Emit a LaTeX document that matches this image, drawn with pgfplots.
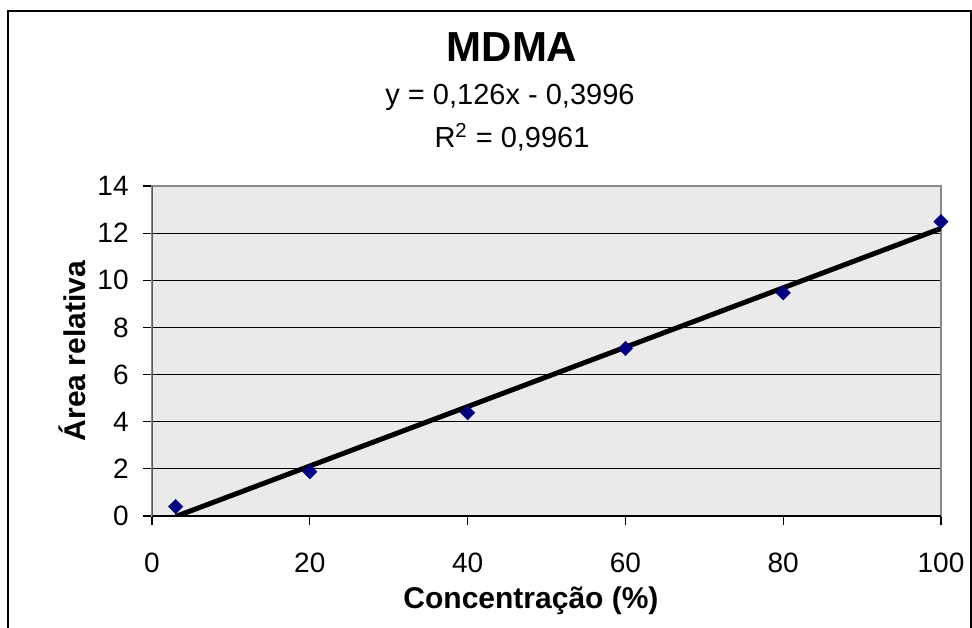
\documentclass[border=0pt]{standalone}
\usepackage{pgfplots}
\pgfplotsset{compat=1.18}
\usepackage{fontspec}
\setmainfont{Liberation Sans}
\definecolor{plotbg}{HTML}{EAEAEA}
\definecolor{navyblue}{HTML}{000080}
\definecolor{framegray}{HTML}{8A8A8A}
\begin{document}
\begin{tikzpicture}
\begin{axis}[
  at={(76pt,55.5pt)}, anchor=south west,
  scale only axis, width=394.5pt, height=165pt,
  xmin=0, xmax=100, ymin=0, ymax=14,
  xtick={0,20,40,60,80,100}, ytick={0,2,4,6,8,10,12,14},
  xtick pos=left, ytick pos=left,
  axis background/.style={fill=plotbg},
  ymajorgrids, major grid style={black, line width=0.5pt},
  tick align=outside, major tick length=4.5pt,
  tick style={black, line width=0.6pt},
  axis line style={framegray, line width=1pt},
  /pgf/number format/assume math mode=true,
  ticklabel style={font=\fontsize{14}{16}\selectfont},
  yticklabel style={anchor=east, inner sep=0pt, xshift=-7pt},
  xticklabel style={anchor=north, inner sep=0pt, yshift=-14pt},
]
\addplot[only marks, mark=square*, mark size=2.47pt, mark options={rotate=45, fill=navyblue, draw=navyblue}]
  coordinates {(3,0.40) (20,1.88) (40,4.38) (60,7.11) (80,9.47) (100,12.49)};
\addplot[black, line width=2.5pt, no marks] coordinates {(3,-0.0216) (100,12.2004)};
\draw[black, line width=0.8pt] (axis cs:0,0) -- (axis cs:100,0);
\draw[black!65, line width=0.8pt] (axis cs:0,0) -- (axis cs:0,14);
\end{axis}
\node[font=\fontsize{21}{24}\selectfont\bfseries] at (256pt,290pt) {MDMA};
\node[font=\fontsize{14.5}{16}\selectfont] at (255pt,265pt) {y = 0,126x - 0,3996};
\node[font=\fontsize{14.5}{16}\selectfont] at (256pt,245pt) {R\textsuperscript{2} = 0,9961};
\node[font=\fontsize{15}{17}\selectfont\bfseries] at (265.5pt,13pt) {Concentração (\%)};
\node[font=\fontsize{15}{17}\selectfont\bfseries, rotate=90] at (36pt,138pt) {Área relativa};
\draw[black, line width=1pt] (4pt,-5pt) -- (4pt,308pt) -- (485.5pt,308pt) -- (485.5pt,-5pt);
\pgfresetboundingbox
\useasboundingbox (0pt,0pt) rectangle (486pt,313.5pt);
\end{tikzpicture}
\end{document}
